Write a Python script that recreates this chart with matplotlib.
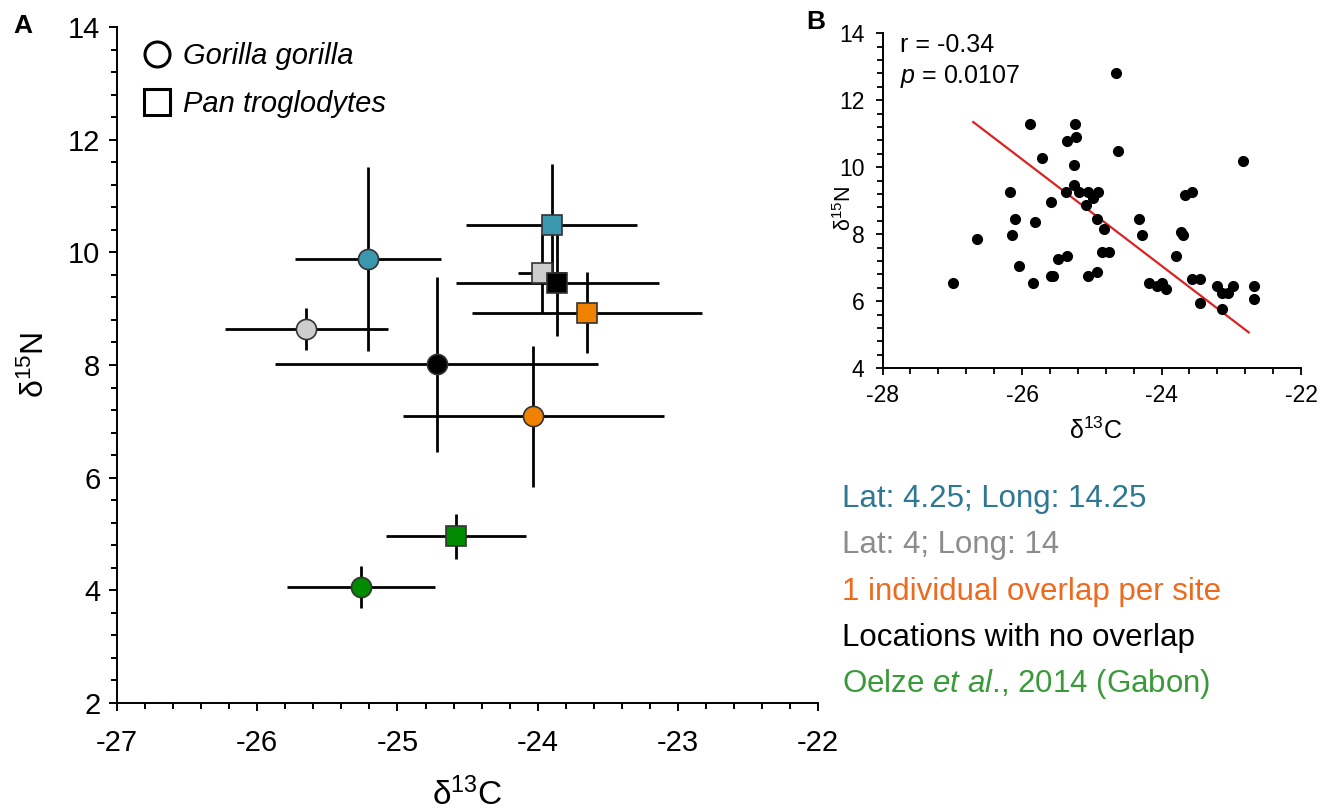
import numpy as np
import matplotlib
matplotlib.use("Agg")
import matplotlib.pyplot as plt
from matplotlib.lines import Line2D
from matplotlib.ticker import MultipleLocator

plt.rcParams['font.family'] = ['Liberation Sans', 'DejaVu Sans']
plt.rcParams['mathtext.fontset'] = 'custom'
plt.rcParams['mathtext.rm'] = 'Liberation Sans'
plt.rcParams['mathtext.it'] = 'Liberation Sans:italic'
plt.rcParams['mathtext.default'] = 'regular'
plt.rcParams['axes.unicode_minus'] = False

# panel A: site means +/- sd, same colour order for both species
groups = ['Lat: 4.25; Long: 14.25', 'Lat: 4; Long: 14', '1 individual overlap per site',
          'Locations with no overlap', 'Oelze et al., 2014 (Gabon)']
marker_colors = ['#3b97ae', '#cdcdcd', '#000000', '#f08200', '#008a00']
text_colors = ['#2e7893', '#8c8c8c', '#ee6a1f', '#000000', '#3a9a3a']

gor_x = [-25.21, -25.65, -24.72, -24.03, -25.26]
gor_y = [9.88, 8.64, 8.01, 7.09, 4.06]
gor_xerr = [0.52, 0.58, 1.15, 0.93, 0.53]
gor_yerr = [1.63, 0.38, 1.56, 1.25, 0.37]

pan_x = [-23.90, -23.97, -23.86, -23.65, -24.58]
pan_y = [10.49, 9.63, 9.46, 8.93, 4.96]
pan_xerr = [0.61, 0.17, 0.725, 0.82, 0.50]
pan_yerr = [1.08, 0.70, 0.95, 0.72, 0.40]

# panel B: individual values
ind_c = [-26.99, -26.64, -26.17, -26.10, -26.15, -26.04, -25.88, -25.84, -25.81, -25.71,
         -25.59, -25.59, -25.55, -25.49, -25.36, -25.37, -25.35, -25.22, -25.24, -25.25,
         -25.25, -25.18, -25.05, -24.91, -24.98, -25.08, -24.93, -24.83, -24.85, -24.75,
         -25.05, -24.92, -24.65, -24.63, -24.33, -24.28, -24.18, -24.07, -23.99, -23.94,
         -23.79, -23.72, -23.69, -23.66, -23.56, -23.57, -23.45, -23.45, -23.21, -23.14,
         -23.05, -22.98, -23.13, -22.83, -22.67, -22.67]
ind_n = [6.56, 7.87, 9.27, 8.47, 7.97, 7.06, 11.29, 6.56, 8.37, 10.29,
         8.97, 6.76, 6.76, 7.26, 7.36, 9.27, 10.79, 10.89, 11.29, 10.08,
         9.48, 9.27, 9.27, 9.27, 9.07, 8.87, 8.47, 8.17, 7.47, 7.47,
         6.76, 6.86, 12.80, 10.49, 8.47, 7.97, 6.56, 6.46, 6.56, 6.36,
         7.36, 8.07, 7.97, 9.17, 9.27, 6.66, 6.66, 5.96, 6.46, 6.26,
         6.26, 6.46, 5.76, 10.19, 6.46, 6.06]
fit_x = [-26.70, -22.75]
fit_y = [11.35, 5.07]

fig = plt.figure(figsize=(13.24, 8.11), dpi=100)
axA = fig.add_axes([0.0884, 0.1332, 0.5295, 0.8335])
axB = fig.add_axes([0.6666, 0.5459, 0.3161, 0.4131])

for ax in [axA, axB]:
    ax.spines['top'].set_visible(False)
    ax.spines['right'].set_visible(False)
    ax.spines['left'].set_linewidth(1.4)
    ax.spines['bottom'].set_linewidth(1.4)

# ---- panel A
axA.errorbar(gor_x, gor_y, xerr=gor_xerr, yerr=gor_yerr, fmt='none', ecolor='black',
             elinewidth=2, capsize=0, zorder=1)
axA.errorbar(pan_x, pan_y, xerr=pan_xerr, yerr=pan_yerr, fmt='none', ecolor='black',
             elinewidth=2, capsize=0, zorder=1)
for i in range(len(groups)):
    axA.plot(gor_x[i], gor_y[i], 'o', ms=14.5, mfc=marker_colors[i], mec='#333333',
             mew=1.2, zorder=3)
    axA.plot(pan_x[i], pan_y[i], 's', ms=15, mfc=marker_colors[i], mec='#333333',
             mew=1.2, zorder=3)

axA.set_xlim(-27, -22)
axA.set_ylim(2, 14)
axA.xaxis.set_major_locator(MultipleLocator(1))
axA.xaxis.set_minor_locator(MultipleLocator(0.2))
axA.yaxis.set_major_locator(MultipleLocator(2))
axA.yaxis.set_minor_locator(MultipleLocator(0.4))
axA.tick_params(which='major', length=6, width=1.4, labelsize=21)
axA.tick_params(which='minor', length=4, width=1.4)
axA.tick_params(axis='x', which='major', pad=13)
axA.tick_params(axis='y', which='major', pad=6)

axA.text(0.5, -0.136, r'$\delta^{13}$C', transform=axA.transAxes, ha='center', va='center',
         fontsize=24)
axA.text(-0.117, 0.5, r'$\delta^{15}$N', transform=axA.transAxes, ha='center', va='center',
         fontsize=23, rotation=90)

handles = [Line2D([], [], ls='none', marker='o', ms=18, mfc='white', mec='black', mew=2.2),
           Line2D([], [], ls='none', marker='s', ms=19, mfc='white', mec='black', mew=2.2)]
axA.legend(handles, ['Gorilla gorilla', 'Pan troglodytes'], loc='upper left',
           bbox_to_anchor=(0.037, 0.978), frameon=False, borderpad=0, borderaxespad=0,
           handlelength=0.95, handletextpad=0.42, labelspacing=0.68,
           prop={'style': 'italic', 'size': 21})

fig.text(0.017, 0.968, 'A', fontsize=19, fontweight='bold', ha='center', va='center')
fig.text(0.616, 0.973, 'B', fontsize=19, fontweight='bold', ha='center', va='center')

# ---- panel B
axB.plot(ind_c, ind_n, 'o', ms=7, color='black', zorder=3)
axB.plot(fit_x, fit_y, color='#dd2222', lw=1.6, zorder=2)
axB.set_xlim(-28, -22)
axB.set_ylim(4, 14)
axB.xaxis.set_major_locator(MultipleLocator(2))
axB.xaxis.set_minor_locator(MultipleLocator(0.4))
axB.yaxis.set_major_locator(MultipleLocator(2))
axB.yaxis.set_minor_locator(MultipleLocator(0.4))
axB.tick_params(which='major', length=5, width=1.3, labelsize=16.5)
axB.tick_params(which='minor', length=4, width=1.3)
axB.tick_params(axis='x', which='major', pad=6)
axB.tick_params(axis='y', which='major', pad=8)
axB.get_xticklabels()[-1].set_color('#666666')

axB.text(0.508, -0.187, r'$\delta^{13}$C', transform=axB.transAxes, ha='center', va='center',
         fontsize=18)
axB.text(-0.092, 0.478, r'$\delta^{15}$N', transform=axB.transAxes, ha='center', va='center',
         fontsize=15.5, rotation=90)
axB.text(0.042, 0.965, 'r = -0.34', transform=axB.transAxes, ha='left', va='center',
         fontsize=18)
axB.text(0.042, 0.870, r'$\it{p}$ = 0.0107', transform=axB.transAxes, ha='left', va='center',
         fontsize=18)

# ---- colour key
key_y = [0.3752, 0.3181, 0.2602, 0.2038, 0.1471]
key_labels = list(groups)
key_labels[4] = r'Oelze $\it{et\ al}$., 2014 (Gabon)'
for i in range(len(groups)):
    fig.text(0.6357, key_y[i], key_labels[i], color=text_colors[i], fontsize=22.5,
             ha='left', va='baseline')

fig.savefig('out.png', dpi=100)
